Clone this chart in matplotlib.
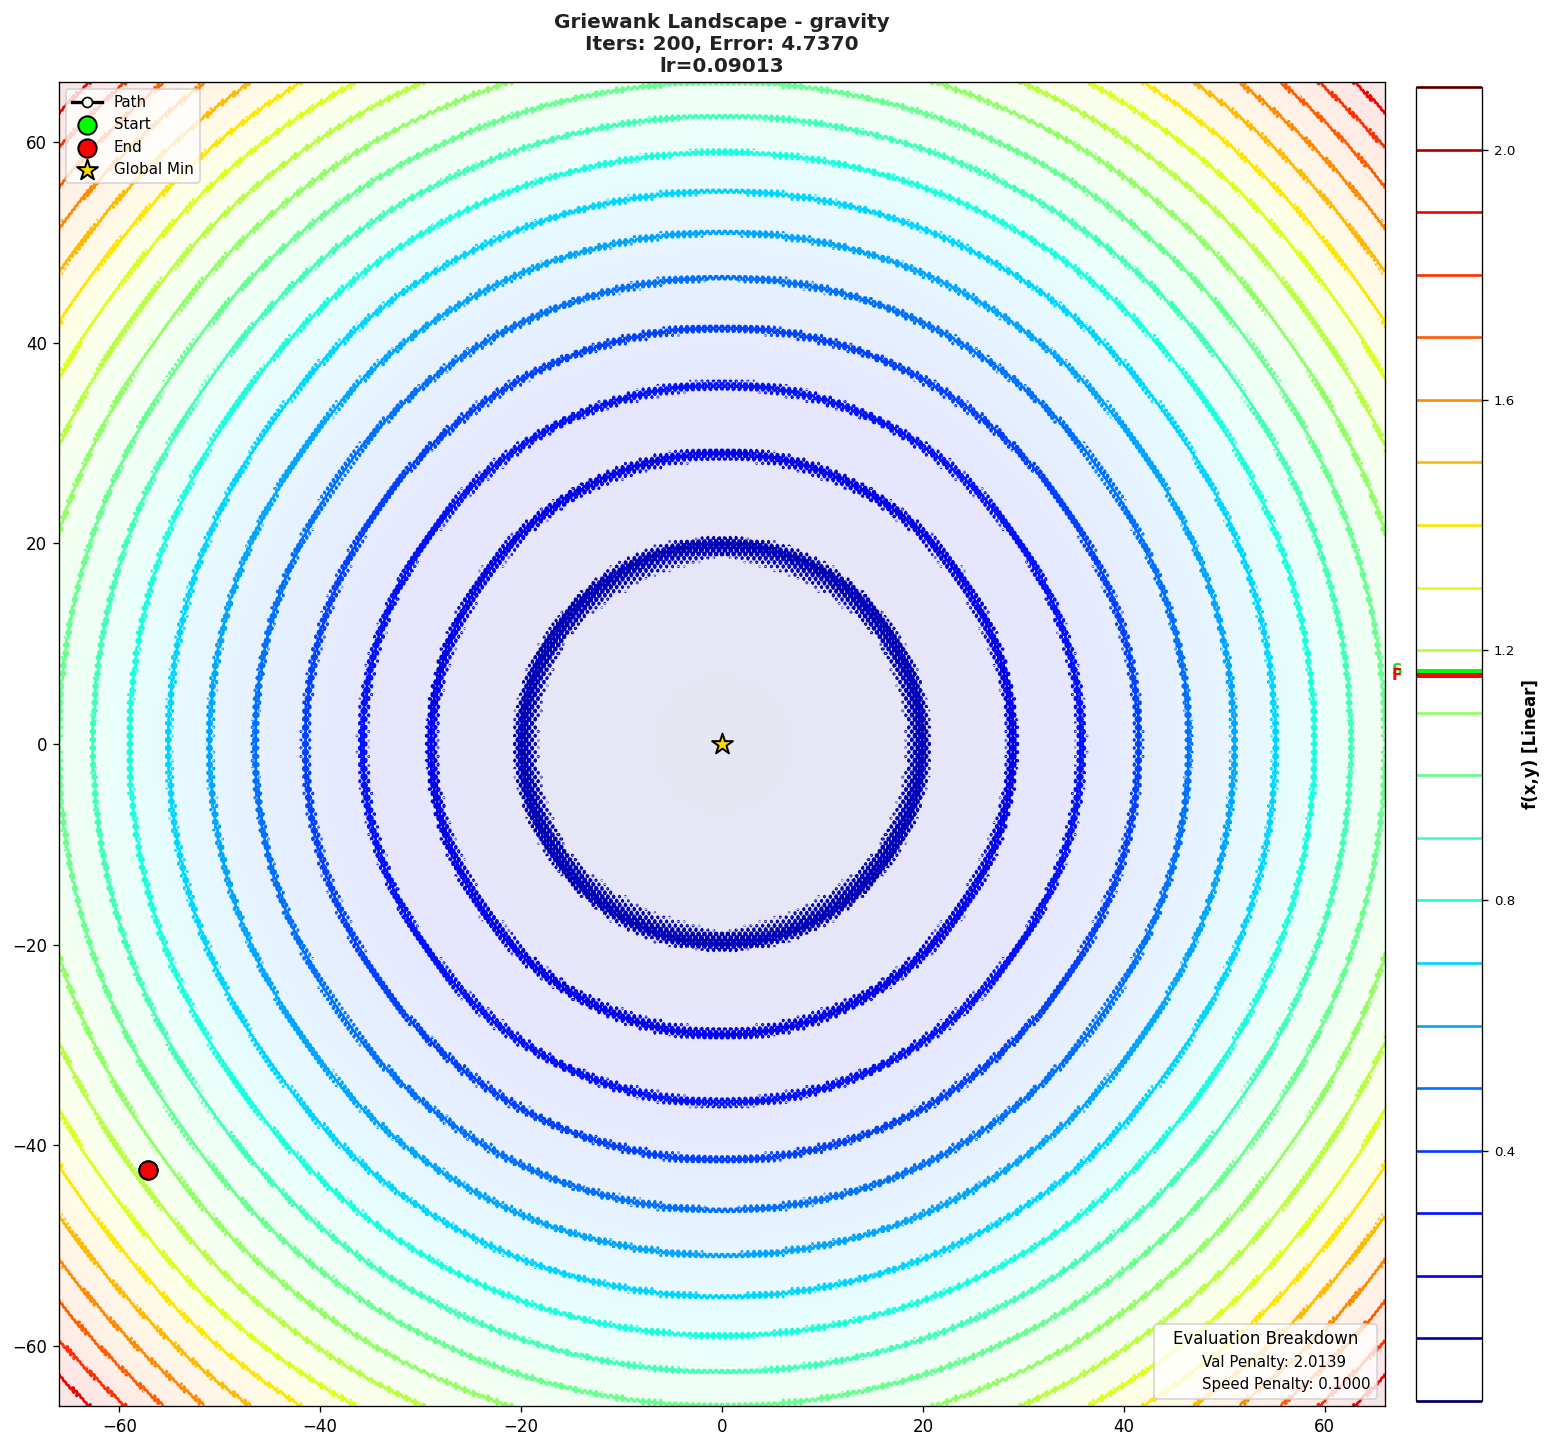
import numpy as np
import matplotlib
matplotlib.use('Agg')
import matplotlib.pyplot as plt
from matplotlib.lines import Line2D

# contour level -> radius where that ring crosses
ring_levels = [0.0, 0.1, 0.2, 0.3, 0.4, 0.5, 0.6, 0.7, 0.8, 0.9, 1.0, 1.1,
               1.2, 1.3, 1.4, 1.5, 1.6, 1.7, 1.8, 1.9, 2.0, 2.1]
ring_radii = [0.0, 20.0, 29.0, 35.8, 41.5, 46.5, 51.0, 55.1, 59.0, 62.6, 66.0, 69.3,
              72.4, 75.4, 78.2, 81.0, 83.7, 86.3, 88.8, 91.2, 93.6, 95.9]
ripple_amp = 0.0105
ripple_freq = 10.8

path_x = [-57.1, -57.1]
path_y = [-42.5, -42.5]
val_start = 1.167
val_end = 1.160
cbar_ticks = [0.4, 0.8, 1.2, 1.6, 2.0]

W, H = 1552, 1448
fig = plt.figure(figsize=(W / 120, H / 120), dpi=120)
ax = fig.add_axes([59 / W, 1 - 1406 / H, 1326 / W, 1324 / H])
cax = fig.add_axes([1416 / W, 1 - 1401 / H, 66 / W, 1314 / H])

n = 900
x = np.linspace(-66, 66, n)
y = np.linspace(-66, 66, n)
X, Y = np.meshgrid(x, y)
R = np.sqrt(X**2 + Y**2)
base = np.interp(R, ring_radii, ring_levels)
# griewank cosine term, small and fast. faded out at the centre so level 0 stays clean
ripple = ripple_amp * np.cos(ripple_freq * X) * np.cos(ripple_freq * Y / np.sqrt(2))
Z = base + ripple * np.clip((R - 8) / 4, 0, 1)

ax.imshow(base, extent=[-66, 66, -66, 66], origin='lower', cmap='jet', alpha=0.1, vmin=0, vmax=2.1, aspect='auto')
lines = ax.contour(X, Y, Z, levels=np.array(ring_levels), cmap='jet', linewidths=1.6, vmin=0, vmax=2.1)

ax.plot(path_x, path_y, color='black', lw=2, marker='o', mfc='white', mec='black', ms=6, label='Path', zorder=5)
ax.scatter(path_x[0], path_y[0], c='lime', edgecolors='black', s=120, lw=1.2, label='Start', zorder=6)
ax.scatter(path_x[-1], path_y[-1], c='red', edgecolors='black', s=120, lw=1.2, label='End', zorder=6)
ax.scatter(0, 0, c='gold', marker='*', edgecolors='black', s=170, lw=1.2, label='Global Min', zorder=6)

ax.set_xlim(-66, 66)
ax.set_ylim(-66, 66)
ax.set_xticks([-60, -40, -20, 0, 20, 40, 60])
ax.set_yticks([-60, -40, -20, 0, 20, 40, 60])
ax.set_title('Griewank Landscape - gravity\nIters: 200, Error: 4.7370\nlr=0.09013', fontsize=12, fontweight='bold', pad=6, color='#222222')

leg = ax.legend(loc='upper left', fontsize=9, borderaxespad=0.45)
ax.add_artist(leg)
extra = [Line2D([], [], color='none', label='Val Penalty: 2.0139'),
         Line2D([], [], color='none', label='Speed Penalty: 0.1000')]
ax.legend(handles=extra, title='Evaluation Breakdown', loc='lower right', fontsize=9, title_fontsize=10,
          bbox_to_anchor=(0.9993, 0.0))

cbar = fig.colorbar(lines, cax=cax)
cbar.set_ticks(cbar_ticks)
cbar.ax.tick_params(labelsize=8)
cbar.set_label('f(x,y) [Linear]', fontsize=10, fontweight='bold')
cax.axhline(val_start, color='lime', lw=3)
cax.axhline(val_end, color='red', lw=3)
cax.text(-0.29, val_start, 'S', color='limegreen', fontsize=9, fontweight='bold', ha='center', va='center', transform=cax.get_yaxis_transform())
cax.text(-0.29, val_end, 'F', color='red', fontsize=9, fontweight='bold', ha='center', va='center', transform=cax.get_yaxis_transform())

fig.savefig('out.png', dpi=120)
